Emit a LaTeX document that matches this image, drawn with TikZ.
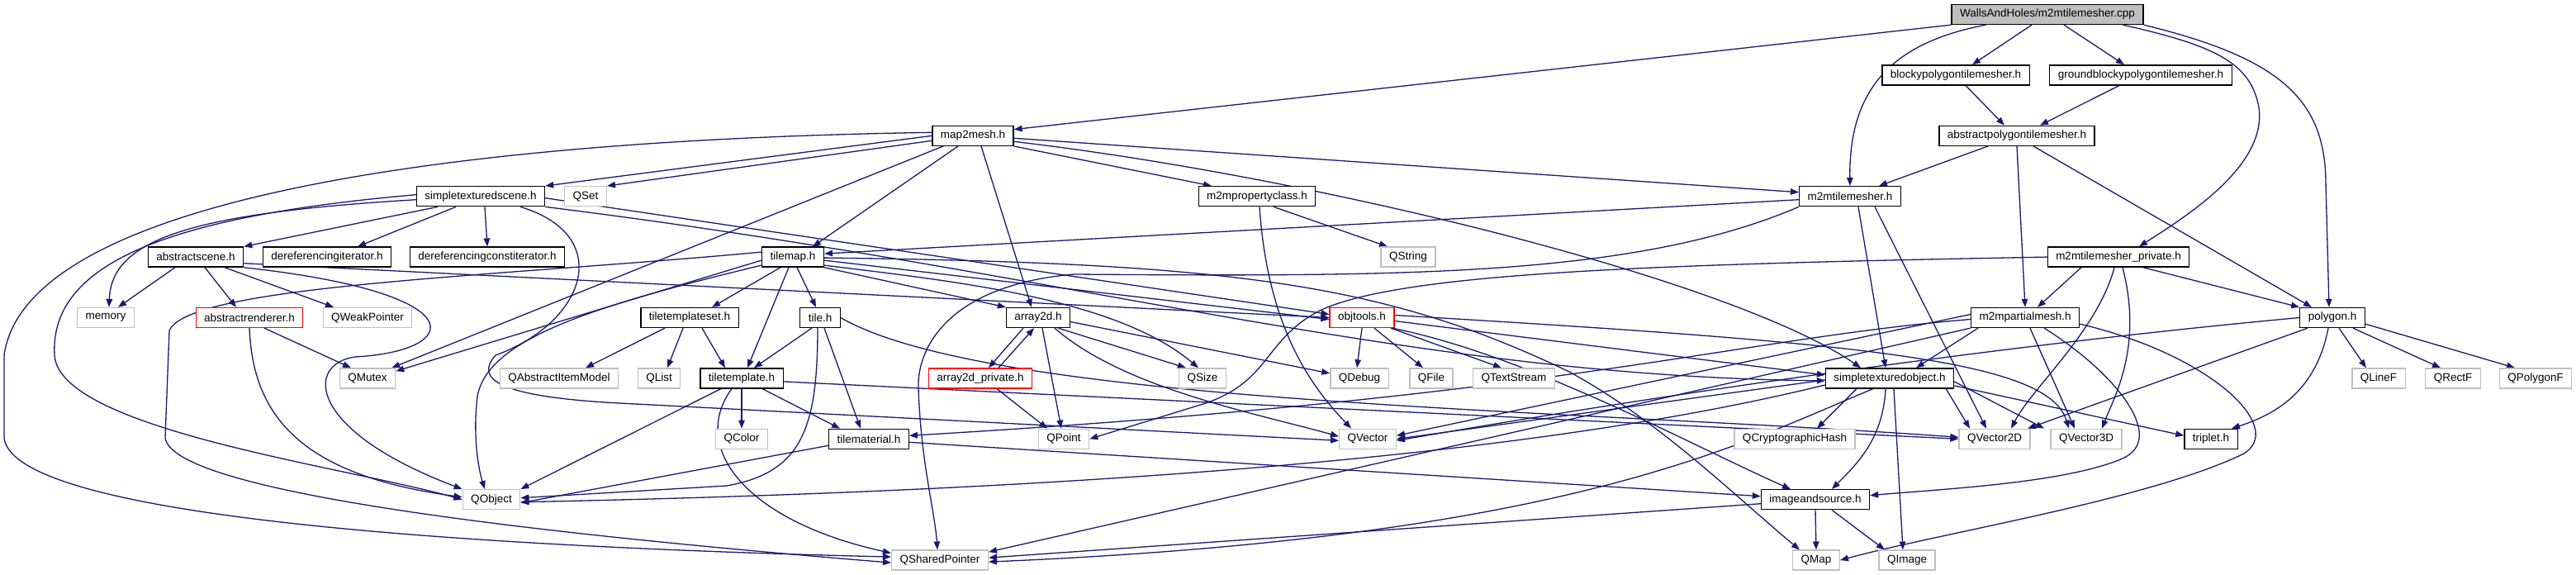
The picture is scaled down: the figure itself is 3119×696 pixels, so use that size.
\documentclass[tikz,border=0pt]{standalone}
\usepackage{fontspec}
\setmainfont{Liberation Sans}
\usetikzlibrary{arrows.meta,backgrounds}
\definecolor{edgec}{HTML}{191970}
\definecolor{extgray}{HTML}{BFBFBF}
\begin{document}
\begin{tikzpicture}[x=1pt,y=-1pt,font=\fontsize{13.5}{16}\selectfont,
  box/.style={rectangle,minimum height=24pt,inner xsep=10pt,inner ysep=0pt,line width=1.3pt,fill=white,anchor=center},
  doc/.style={box,draw=black},
  ext/.style={box,draw=extgray},
  redn/.style={box,draw=red},
  mainn/.style={box,draw=black,fill=extgray},
  dep/.style={draw=edgec,line width=1.3pt,-{Triangle[length=10pt,width=7.5pt]}}]
\path[use as bounding box] (0,0) rectangle (3119,696);
% row 0
\node[mainn] (cpp) at (2479,17.5) {WallsAndHoles/m2mtilemesher.cpp};
% row 1
\node[doc] (bpm) at (2368,90.9) {blockypolygontilemesher.h};
\node[doc] (gbpm) at (2592,90.9) {groundblockypolygontilemesher.h};
% row 2
\node[doc] (m2m) at (1178,164.3) {map2mesh.h};
\node[doc] (apm) at (2442,164.3) {abstractpolygontilemesher.h};
% row 3
\node[doc] (sts) at (582,237.7) {simpletexturedscene.h};
\node[ext] (qset) at (709,237.7) {QSet};
\node[doc] (mpc) at (1522,237.7) {m2mpropertyclass.h};
\node[doc] (mtm) at (2240,237.7) {m2mtilemesher.h};
% row 4
\node[doc] (ascene) at (237,311.1) {abstractscene.h};
\node[doc] (di) at (396,311.1) {dereferencingiterator.h};
\node[doc] (dci) at (590,311.1) {dereferencingconstiterator.h};
\node[doc] (tmap) at (960,311.1) {tilemap.h};
\node[ext] (qstr) at (1705,311.1) {QString};
\node[doc] (mtp) at (2565,311.1) {m2mtilemesher\_private.h};
% row 5
\node[ext] (mem) at (128,384.5) {memory};
\node[redn] (ar) at (302,384.5) {abstractrenderer.h};
\node[ext] (qwp) at (445,384.5) {QWeakPointer};
\node[doc] (tts) at (835,384.5) {tiletemplateset.h};
\node[doc] (tile) at (993,384.5) {tile.h};
\node[doc] (a2d) at (1257,384.5) {array2d.h};
\node[redn] (obj) at (1649,384.5) {objtools.h};
\node[doc] (mpm) at (2452,384.5) {m2mpartialmesh.h};
\node[doc] (poly) at (2824,384.5) {polygon.h};
% row 6
\node[ext] (qmutex) at (445,457.9) {QMutex};
\node[ext] (qaim) at (677,457.9) {QAbstractItemModel};
\node[ext] (qlist) at (798,457.9) {QList};
\node[doc] (tt) at (898,457.9) {tiletemplate.h};
\node[redn] (a2p) at (1187,457.9) {array2d\_private.h};
\node[ext] (qsize) at (1456,457.9) {QSize};
\node[ext] (qdebug) at (1646,457.9) {QDebug};
\node[ext] (qfile) at (1733,457.9) {QFile};
\node[ext] (qts) at (1833,457.9) {QTextStream};
\node[doc] (sto) at (2288,457.9) {simpletexturedobject.h};
\node[ext] (qlinef) at (2880,457.9) {QLineF};
\node[ext] (qrectf) at (2970,457.9) {QRectF};
\node[ext] (qpolyf) at (3070,457.9) {QPolygonF};
% row 7
\node[ext] (qcolor) at (898,531.3) {QColor};
\node[doc] (tmat) at (1052,531.3) {tilematerial.h};
\node[ext] (qpoint) at (1288,531.3) {QPoint};
\node[ext] (qvec) at (1656,531.3) {QVector};
\node[ext] (qch) at (2173,531.3) {QCryptographicHash};
\node[ext] (qv2) at (2415,531.3) {QVector2D};
\node[ext] (qv3) at (2526,531.3) {QVector3D};
\node[doc] (trip) at (2677,531.3) {triplet.h};
% row 8
\node[ext] (qobj) at (595,604.7) {QObject};
\node[doc] (ias) at (2198,604.7) {imageandsource.h};
% row 9
\node[ext] (qsp) at (1138,678.1) {QSharedPointer};
\node[ext] (qmap) at (2199,678.1) {QMap};
\node[ext] (qimg) at (2309,678.1) {QImage};

\begin{scope}[on background layer]
% cpp
\draw[dep] (cpp.south west) -- ([yshift=-5pt]m2m.north east);
\draw[dep] ([xshift=42pt]cpp.south west) .. controls (2300,50) and (2238,100) .. (mtm.north);
\draw[dep] ([xshift=-19pt]cpp.south) -- ([xshift=20pt]bpm.north);
\draw[dep] ([xshift=20pt]cpp.south) -- ([xshift=-20pt]gbpm.north);
\draw[dep] ([xshift=-25pt]cpp.south east) .. controls (2680,55) and (2725,75) .. (2735,130) .. controls (2745,200) and (2650,260) .. ([xshift=25pt]mtp.north);
\draw[dep] (cpp.south east) .. controls (2760,70) and (2815,120) .. (2816,220) -- ([xshift=-4pt]poly.north);
% blocky / abstractpoly
\draw[dep] ([xshift=12pt]bpm.south) -- ([xshift=-15pt]apm.north);
\draw[dep] ([xshift=-26pt]gbpm.south) -- ([xshift=28pt]apm.north);
\draw[dep] ([xshift=-35pt]apm.south) -- ([xshift=35pt]mtm.north);
\draw[dep] (apm.south) -- (mpm.north);
\draw[dep] ([xshift=20pt]apm.south) -- ([xshift=-25pt]poly.north);
% map2mesh
\draw[dep] (m2m.west) -- (sts.north east);
\draw[dep] ([yshift=-6pt]m2m.west) -- (qset.north east);
\draw[dep] ([yshift=4pt]m2m.west) .. controls (500,170) and (30,250) .. (5,430) -- (5,530) .. controls (15,620) and (500,660) .. ([yshift=4pt]qsp.west);
\draw[dep] ([xshift=-36pt]m2m.south) -- ([xshift=-5pt]qmutex.north east);
\draw[dep] ([xshift=-18pt]m2m.south) -- ([xshift=24pt]tmap.north);
\draw[dep] ([xshift=10pt]m2m.south) -- ([xshift=-8pt]a2d.north);
\draw[dep] (m2m.south east) -- ([xshift=-55pt]mpc.north);
\draw[dep] ([yshift=-3pt]m2m.east) -- ([yshift=5pt]mtm.west);
\draw[dep] ([yshift=-7pt]m2m.east) .. controls (1600,215) and (2100,340) .. ([xshift=-35pt]sto.north);
% m2mpropertyclass
\draw[dep] ([xshift=20pt]mpc.south) -- ([xshift=-25pt]qstr.north);
\draw[dep] ([xshift=3pt]mpc.south) .. controls (1535,400) and (1590,470) .. ([xshift=-20pt]qvec.north);
% m2mtilemesher
\draw[dep] ([yshift=-4pt]mtm.west) -- ([yshift=4pt]tmap.east);
\draw[dep] (mtm.south west) .. controls (1980,335) and (1700,335) .. (1300,332) .. controls (1150,345) and (1110,420) .. (1112,470) .. controls (1115,560) and (1132,620) .. ([xshift=-3pt]qsp.north);
\draw[dep] ([xshift=10pt]mtm.south) -- ([xshift=-5pt]sto.north);
\draw[dep] ([xshift=30pt]mtm.south) -- ([xshift=-10pt]qv2.north);
% m2mtilemesher_private
\draw[dep] ([xshift=-45pt]mtp.south) -- ([xshift=15pt]mpm.north);
\draw[dep] ([xshift=30pt]mtp.south) -- (poly.north west);
\draw[dep] ([xshift=-5pt]mtp.south) .. controls (2540,400) and (2460,470) .. ([xshift=20pt]qv2.north);
\draw[dep] ([xshift=5pt]mtp.south) .. controls (2595,420) and (2560,480) .. ([xshift=19pt]qv3.north);
\draw[dep] (mtp.west) .. controls (2000,320) and (1700,330) .. (1600,375) .. controls (1530,410) and (1540,460) .. (1460,488) -- (qpoint.east);
% m2mpartialmesh
\draw[dep] ([xshift=-57pt]mpm.south) -- ([xshift=32pt]sto.north);
\draw[dep] ([yshift=4pt]mpm.west) -- ([yshift=4pt]qvec.east);
\draw[dep] (mpm.south west) -- ([yshift=10pt]qsp.east);
\draw[dep] ([yshift=-2pt]mpm.west) .. controls (2100,410) and (1900,480) .. ([yshift=4pt]tmat.east);
\draw[dep] ([xshift=6pt]mpm.south) -- ([xshift=-14pt]qv3.north);
\draw[dep] ([xshift=23pt]mpm.south) .. controls (2560,450) and (2625,530) .. (2570,555) .. controls (2500,585) and (2350,592) .. ([yshift=5pt]ias.east);
\draw[dep] ([yshift=5pt]mpm.south east) .. controls (2680,430) and (2770,520) .. (2715,550) .. controls (2600,605) and (2350,645) .. (qmap.east);
% polygon
\draw[dep] ([xshift=8pt]poly.south) -- ([xshift=-15pt]qlinef.north);
\draw[dep] ([xshift=25pt]poly.south) -- ([xshift=-15pt]qrectf.north);
\draw[dep] ([yshift=5pt]poly.south east) -- ([xshift=-25pt]qpolyf.north);
\draw[dep] ([xshift=-5pt]poly.south) .. controls (2805,470) and (2760,500) .. ([xshift=25pt]trip.north);
\draw[dep] ([xshift=-30pt]poly.south) -- ([xshift=40pt]qv2.north);
\draw[dep] (poly.west) .. controls (2400,420) and (2000,480) .. ([yshift=-2pt]qvec.east);
% simpletexturedobject
\draw[dep] ([yshift=-2pt]sto.west) -- (qvec.east);
\draw[dep] ([yshift=-8pt]sto.west) .. controls (1950,530) and (1500,590) .. ([yshift=-3pt]qobj.east);
\draw[dep] ([xshift=-20pt]sto.south) .. controls (2100,540) and (1900,650) .. ([yshift=-2pt]qsp.east);
\draw[dep] ([xshift=-40pt]sto.south) -- ([xshift=27pt]qch.north);
\draw[dep] ([xshift=-5pt]sto.south) .. controls (2280,530) and (2250,560) .. ([xshift=20pt]ias.north);
\draw[dep] ([xshift=5pt]sto.south) -- ([xshift=-5pt]qimg.north);
\draw[dep] ([xshift=-10pt]sto.south east) -- ([xshift=-30pt]qv2.north);
\draw[dep] ([yshift=-4pt]sto.east) -- ([xshift=-51pt]qv3.north);
\draw[dep] ([yshift=-9pt]sto.east) -- ([yshift=4pt]trip.west);
% objtools
\draw[dep] (obj.south) -- ([xshift=-3pt]qdebug.north);
\draw[dep] ([xshift=15pt]obj.south) -- ([xshift=-10pt]qfile.north);
\draw[dep] ([xshift=35pt]obj.south) -- ([xshift=-15pt]qts.north);
\draw[dep] ([yshift=-4pt]obj.east) -- ([yshift=4pt]sto.west);
\draw[dep] ([yshift=3pt]obj.east) .. controls (2250,415) and (2480,435) .. ([xshift=-21pt]qv3.north);
\draw[dep] ([xshift=-3pt]obj.south east) .. controls (1850,430) and (2050,540) .. ([xshift=-30pt]ias.north);
% imageandsource
\draw[dep] (ias.south) -- (qmap.north);
\draw[dep] ([xshift=20pt]ias.south) -- ([xshift=-27pt]qimg.north);
\draw[dep] ([yshift=-5pt]ias.west) -- ([yshift=3pt]qsp.east);
% tilematerial
\draw[dep] ([yshift=-8pt]tmat.west) -- ([yshift=-4pt]qobj.east);
\draw[dep] ([yshift=-4pt]tmat.east) -- ([yshift=4pt]ias.west);
% array2d
\draw[dep] ([xshift=-18pt]a2d.south) -- ([xshift=10pt]a2p.north);
\draw[dep] ([xshift=22pt]a2p.north) -- ([xshift=-5pt]a2d.south);
\draw[dep] ([xshift=20pt]a2p.south) -- ([xshift=-20pt]qpoint.north);
\draw[dep] ([xshift=5pt]a2d.south) -- ([xshift=-3pt]qpoint.north);
\draw[dep] ([xshift=-15pt]a2d.south east) -- ([xshift=-20pt]qsize.north);
\draw[dep] ([yshift=-5pt]a2d.east) -- ([yshift=6pt]qdebug.west);
\draw[dep] ([xshift=20pt]a2d.south) .. controls (1360,470) and (1520,500) .. ([yshift=3pt]qvec.west);
% tile
\draw[dep] ([xshift=-10pt]tile.south) -- ([xshift=15pt]tt.north);
\draw[dep] ([xshift=5pt]tile.south) -- ([xshift=-10pt]tmat.north);
\draw[dep] ([xshift=-3pt]tile.south) .. controls (990,520) and (970,572) .. (880,588) -- ([yshift=2pt]qobj.east);
\draw[dep] (tile.east) .. controls (1200,490) and (1900,495) .. ([yshift=2pt]qv2.west);
% tiletemplate
\draw[dep] (tt.south) -- (qcolor.north);
\draw[dep] ([xshift=25pt]tt.south) -- ([xshift=-35pt]tmat.north);
\draw[dep] ([xshift=-25pt]tt.south) -- (qobj.north east);
\draw[dep] ([xshift=-12pt]tt.south) .. controls (835,540) and (900,630) .. ([yshift=-4pt]qsp.north west);
\draw[dep] ([yshift=-4pt]tt.east) -- (qv2.west);
% tiletemplateset
\draw[dep] ([xshift=-30pt]tts.south) -- ([xshift=32pt]qaim.north);
\draw[dep] ([xshift=-8pt]tts.south) -- ([xshift=10pt]qlist.north);
\draw[dep] ([xshift=15pt]tts.south) -- ([xshift=-20pt]tt.north);
% tilemap
\draw[dep] ([xshift=-15pt]tmap.south) -- ([xshift=27pt]tts.north);
\draw[dep] ([xshift=5pt]tmap.south) -- ([xshift=-5pt]tile.north);
\draw[dep] ([xshift=-5pt]tmap.south) -- ([xshift=7pt]tt.north);
\draw[dep] (tmap.south east) -- (a2d.north west);
\draw[dep] ([yshift=-10pt]tmap.east) .. controls (1150,340) and (1350,360) .. ([xshift=-5pt]qsize.north);
\draw[dep] ([yshift=-4pt]tmap.east) -- ([yshift=-2pt]obj.west);
\draw[dep] ([yshift=-1pt]tmap.east) .. controls (1500,318) and (1680,345) .. (1900,450) .. controls (2010,510) and (2100,600) .. ([xshift=-20pt]qmap.north);
\draw[dep] ([yshift=6pt]tmap.west) .. controls (600,335) and (230,345) .. (205,400) -- (200,530) .. controls (210,600) and (700,650) .. ([yshift=-3pt]qsp.west);
\draw[dep] ([yshift=-4pt]tmap.west) -- ([yshift=-4pt]qmutex.north east);
\draw[dep] ([yshift=-10pt]tmap.west) .. controls (720,370) and (590,410) .. (578,480) .. controls (572,530) and (580,570) .. ([xshift=-8pt]qobj.north);
% simpletexturedscene
\draw[dep] ([yshift=-4pt]sts.west) .. controls (230,258) and (135,290) .. ([xshift=4pt]mem.north);
\draw[dep] ([yshift=2pt]sts.west) .. controls (200,262) and (60,320) .. (66,430) .. controls (72,520) and (420,565) .. (qobj.west);
\draw[dep] ([xshift=-52pt]sts.south) -- (ascene.north east);
\draw[dep] ([xshift=-30pt]sts.south) -- ([xshift=37pt]di.north);
\draw[dep] ([xshift=5pt]sts.south) -- (dci.north);
\draw[dep] ([xshift=48pt]sts.south) .. controls (745,285) and (710,390) .. (600,430) .. controls (575,458) and (600,480) .. (750,488) -- ([yshift=-2pt]qvec.west);
\draw[dep] ([yshift=-2pt]sts.east) -- ([yshift=4pt]obj.west);
\draw[dep] (sts.south east) .. controls (1300,330) and (1700,455) .. ([yshift=-3pt]sto.west);
% abstractscene
\draw[dep] ([xshift=-25pt]ascene.south) -- ([xshift=15pt]mem.north);
\draw[dep] ([xshift=11pt]ascene.south) -- ([xshift=-16pt]ar.north);
\draw[dep] ([xshift=35pt]ascene.south) -- ([xshift=-41pt]qwp.north);
\draw[dep] (ascene.south east) .. controls (580,355) and (560,425) .. (430,432) .. controls (370,440) and (370,520) .. (qobj.north west);
\draw[dep] ([yshift=5pt]ascene.south east) -- (obj.west);
% abstractrenderer
\draw[dep] ([xshift=18pt]ar.south) -- ([xshift=-20pt]qmutex.north);
\draw[dep] (ar.south) .. controls (306,500) and (360,575) .. ([yshift=3pt]qobj.west);
\end{scope}
\end{tikzpicture}
\end{document}
